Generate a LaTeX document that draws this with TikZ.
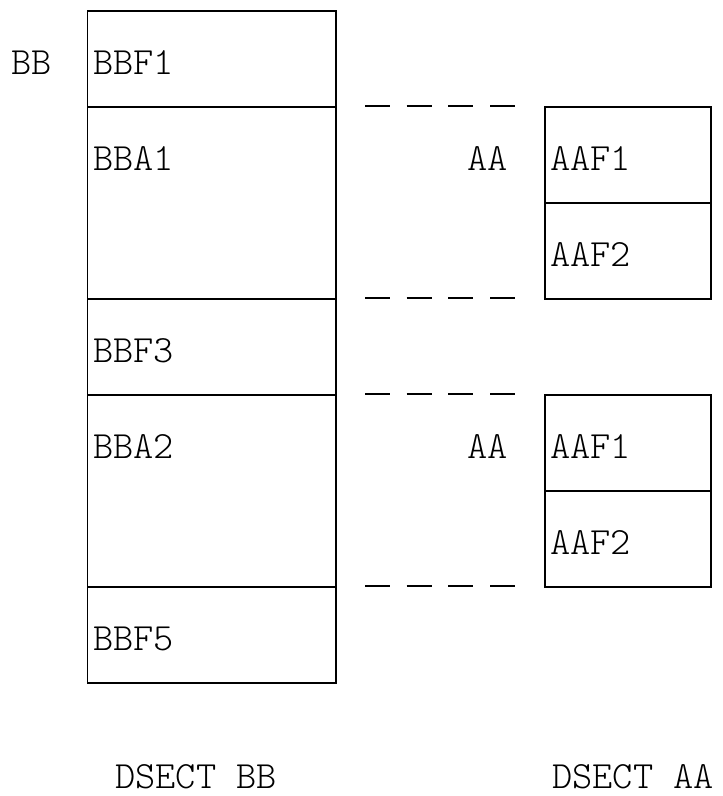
\documentclass[tikz,border=0pt]{standalone}
\usepackage{fontspec}
\setmonofont{Latin Modern Mono Light}
\begin{document}
\begin{tikzpicture}[x=1pt,y=-1pt,
  cell/.style={draw,line width=1.6pt,inner sep=0pt,anchor=north west},
  lcell/.style={cell,minimum width=248.3pt},
  rcell/.style={cell,minimum width=166pt,minimum height=96pt},
  lbl/.style={font=\fontsize{38.5}{40}\selectfont\ttfamily,inner sep=0pt,anchor=base west},
  dashline/.style={line width=1.6pt,dash pattern=on 25pt off 16.7pt}]
\useasboundingbox (0,0) rectangle (723,796);
% DSECT BB
\node[lcell,minimum height=96pt]  (bbf1) at (86.7,10)  {};
\node[lcell,minimum height=192pt] (bba1) at (86.7,106) {};
\node[lcell,minimum height=96pt]  (bbf3) at (86.7,298) {};
\node[lcell,minimum height=192pt] (bba2) at (86.7,394) {};
\node[lcell,minimum height=96pt]  (bbf5) at (86.7,586) {};
% DSECT AA (twice)
\node[rcell] (aaf1a) at (544,106) {};
\node[rcell] (aaf2a) at (544,202) {};
\node[rcell] (aaf1b) at (544,394) {};
\node[rcell] (aaf2b) at (544,490) {};
% labels
\node[lbl] (tbb)    at (11,74)  {BB};
\node[lbl] (tbbf1)  at (93,74)  {BBF1};
\node[lbl] (tbba1)  at (93,170) {BBA1};
\node[lbl] (tbbf3)  at (93,362) {BBF3};
\node[lbl] (tbba2)  at (93,458) {BBA2};
\node[lbl] (tbbf5)  at (93,650) {BBF5};
\node[lbl] (taa1)   at (467,170) {AA};
\node[lbl] (taaf1a) at (550,170) {AAF1};
\node[lbl] (taaf2a) at (550,266) {AAF2};
\node[lbl] (taa2)   at (467,458) {AA};
\node[lbl] (taaf1b) at (550,458) {AAF1};
\node[lbl] (taaf2b) at (550,554) {AAF2};
\node[lbl] (tdbb)   at (115,788) {DSECT BB};
\node[lbl] (tdaa)   at (552,788) {DSECT AA};
% dashed connectors
\coordinate (d1a) at (365,106); \coordinate (d1b) at (515,106);
\coordinate (d2a) at (365,298); \coordinate (d2b) at (515,298);
\coordinate (d3a) at (365,394); \coordinate (d3b) at (515,394);
\coordinate (d4a) at (365,586); \coordinate (d4b) at (515,586);
\draw[dashline] (d1a) -- (d1b);
\draw[dashline] (d2a) -- (d2b);
\draw[dashline] (d3a) -- (d3b);
\draw[dashline] (d4a) -- (d4b);
\end{tikzpicture}
\end{document}
